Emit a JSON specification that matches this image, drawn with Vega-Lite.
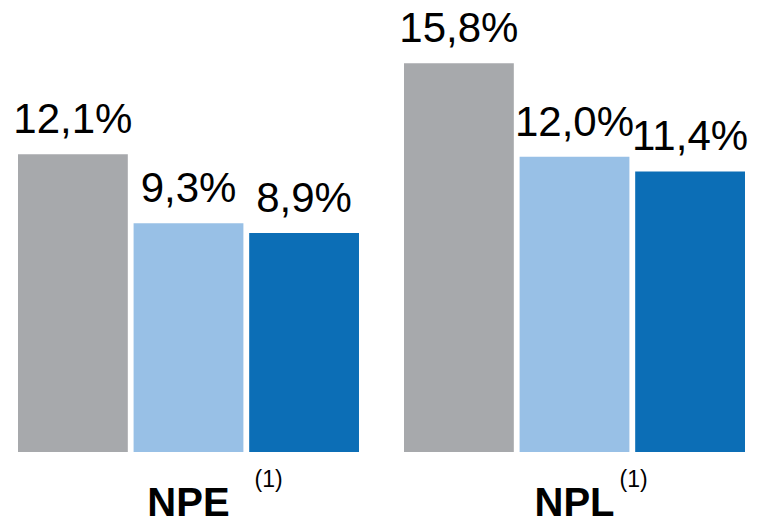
{
  "$schema": "https://vega.github.io/schema/vega-lite/v6.json",
  "width": 727,
  "height": 452,
  "autosize": {"type": "none"},
  "padding": {"left": 18, "top": 0, "right": 12, "bottom": 70},
  "background": "white",
  "config": {"view": {"stroke": null}, "font": "Liberation Sans"},
  "datasets": {
    "bars": [
      {"group": "NPE", "series": "s1", "value": 12.1, "label": "12,1%"},
      {"group": "NPE", "series": "s2", "value": 9.3, "label": "9,3%"},
      {"group": "NPE", "series": "s3", "value": 8.9, "label": "8,9%"},
      {"group": "NPL", "series": "s1", "value": 15.8, "label": "15,8%"},
      {"group": "NPL", "series": "s2", "value": 12.0, "label": "12,0%"},
      {"group": "NPL", "series": "s3", "value": 11.4, "label": "11,4%"}
    ],
    "notes": [
      {"group": "NPE", "note": "(1)"},
      {"group": "NPL", "note": "(1)"}
    ]
  },
  "encoding": {
    "x": {
      "field": "group",
      "type": "nominal",
      "sort": ["NPE", "NPL"],
      "scale": {"paddingInner": 0.1166, "paddingOuter": 0},
      "axis": {
        "title": null,
        "domain": false,
        "ticks": false,
        "labelAngle": 0,
        "labelFontSize": 40,
        "labelFontWeight": "bold",
        "labelColor": "#000000",
        "labelFont": "Liberation Sans",
        "labelPadding": 31
      }
    }
  },
  "layer": [
    {
      "data": {"name": "bars"},
      "mark": {"type": "bar"},
      "encoding": {
        "xOffset": {
          "field": "series",
          "type": "nominal",
          "scale": {"paddingInner": 0.05, "paddingOuter": 0}
        },
        "y": {
          "field": "value",
          "type": "quantitative",
          "scale": {"domain": [0, 18.37], "nice": false, "zero": true},
          "axis": null
        },
        "color": {
          "field": "series",
          "type": "nominal",
          "scale": {"domain": ["s1", "s2", "s3"], "range": ["#A7A9AC", "#98C0E6", "#0C6EB6"]},
          "legend": null
        }
      }
    },
    {
      "data": {"name": "bars"},
      "mark": {"type": "text", "baseline": "alphabetic", "align": "center", "dy": -21, "fontSize": 42, "font": "Liberation Sans", "color": "#000000"},
      "encoding": {
        "xOffset": {
          "field": "series",
          "type": "nominal",
          "scale": {"paddingInner": 0.05, "paddingOuter": 0}
        },
        "y": {"field": "value", "type": "quantitative"},
        "text": {"field": "label"}
      }
    },
    {
      "data": {"name": "notes"},
      "transform": [{"filter": "datum.group === 'NPE'"}],
      "mark": {"type": "text", "align": "left", "baseline": "alphabetic", "dx": 66, "fontSize": 23, "font": "Liberation Sans", "color": "#000000"},
      "encoding": {
        "y": {"value": 487},
        "text": {"field": "note"}
      }
    },
    {
      "data": {"name": "notes"},
      "transform": [{"filter": "datum.group === 'NPL'"}],
      "mark": {"type": "text", "align": "left", "baseline": "alphabetic", "dx": 45, "fontSize": 23, "font": "Liberation Sans", "color": "#000000"},
      "encoding": {
        "y": {"value": 487},
        "text": {"field": "note"}
      }
    }
  ]
}
